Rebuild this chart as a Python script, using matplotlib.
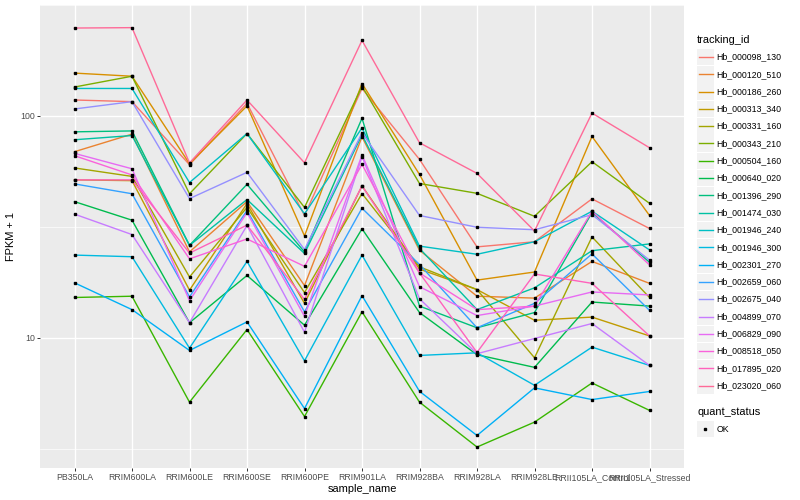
import numpy as np
import matplotlib
matplotlib.use('Agg')
import matplotlib.pyplot as plt
from matplotlib.lines import Line2D
from matplotlib.patches import Rectangle

samples = ['PB350LA', 'RRIM600LA', 'RRIM600LE', 'RRIM600SE', 'RRIM600PE', 'RRIM901LA',
           'RRIM928BA', 'RRIM928LA', 'RRIM928LE', 'RRII105LA_Control', 'RRII105LA_Stressed']

tracking_ids = ['Hb_000098_130', 'Hb_000120_510', 'Hb_000186_260', 'Hb_000313_340',
                'Hb_000331_160', 'Hb_000343_210', 'Hb_000504_160', 'Hb_000640_020',
                'Hb_001396_290', 'Hb_001474_030', 'Hb_001946_240', 'Hb_001946_300',
                'Hb_002301_270', 'Hb_002659_060', 'Hb_002675_040', 'Hb_004899_070',
                'Hb_006829_090', 'Hb_008518_050', 'Hb_017895_020', 'Hb_023020_060']

# FPKM + 1, one value per sample
hb_000098_130 = [118, 116, 60.3, 114, 35.6, 133, 63.7, 25.7, 27.1, 42.3, 31.1]
hb_000120_510 = [69.0, 82.8, 24.4, 41.1, 17.2, 80.5, 24.8, 15.4, 15.1, 22.1, 17.6]
hb_000186_260 = [156, 151, 60.9, 111, 28.8, 140, 54.5, 18.2, 19.8, 80.8, 35.6]
hb_000313_340 = [51.5, 51.1, 16.4, 40.3, 14.3, 48.4, 20.4, 16.5, 12.0, 12.4, 10.2]
hb_000331_160 = [58.3, 53.4, 18.8, 38.7, 16.0, 44.7, 20.9, 16.5, 8.13, 28.5, 15.2]
hb_000343_210 = [135, 151, 44.6, 83.3, 38.7, 136, 49.6, 44.8, 35.3, 62.2, 40.4]
hb_000504_160 = [15.2, 15.4, 5.13, 10.9, 4.42, 13.1, 5.13, 3.22, 4.17, 6.26, 4.71]
hb_000640_020 = [41.1, 33.9, 11.7, 19.1, 11.4, 31.0, 13.0, 8.39, 7.36, 14.5, 13.9]
hb_001396_290 = [84.8, 85.6, 26.1, 49.2, 24.4, 97.6, 13.9, 11.1, 13.0, 36.7, 21.9]
hb_001474_030 = [78.1, 81.6, 26.1, 42.0, 24.0, 82.2, 25.3, 13.4, 16.8, 24.7, 26.5]
hb_001946_240 = [133, 133, 50.1, 83.3, 36.2, 88.4, 25.9, 23.8, 27.1, 37.2, 24.9]
hb_001946_300 = [23.6, 23.2, 8.99, 22.1, 7.88, 23.6, 8.33, 8.56, 6.11, 9.08, 7.51]
hb_002301_270 = [17.7, 13.4, 8.77, 11.8, 4.80, 15.5, 5.74, 3.63, 5.95, 5.27, 5.73]
hb_002659_060 = [49.4, 44.6, 15.3, 37.5, 13.1, 38.4, 21.4, 11.1, 14.3, 23.9, 13.3]
hb_002675_040 = [107.5, 116, 42.4, 55.7, 25.0, 83.9, 35.6, 31.5, 30.7, 35.9, 22.4]
hb_004899_070 = [36.1, 29.2, 11.7, 32.1, 10.6, 65.5, 15.0, 8.48, 9.93, 11.6, 7.51]
hb_006829_090 = [67.8, 57.8, 14.7, 36.7, 12.5, 66.8, 17.0, 12.6, 13.9, 16.1, 15.6]
hb_008518_050 = [66.2, 54.2, 22.7, 27.9, 21.0, 60.5, 19.6, 13.4, 13.9, 37.2, 21.3]
hb_017895_020 = [51.5, 51.5, 24.1, 32.2, 14.9, 48.4, 19.6, 8.59, 19.4, 17.6, 10.2]
hb_023020_060 = [249, 250, 61.4, 118, 61.5, 219, 75.7, 55.1, 30.3, 103, 71.9]

series = [hb_000098_130, hb_000120_510, hb_000186_260, hb_000313_340, hb_000331_160,
          hb_000343_210, hb_000504_160, hb_000640_020, hb_001396_290, hb_001474_030,
          hb_001946_240, hb_001946_300, hb_002301_270, hb_002659_060, hb_002675_040,
          hb_004899_070, hb_006829_090, hb_008518_050, hb_017895_020, hb_023020_060]


def hue_colours(n, c=100, l=65):
    """ggplot2-style hue palette (polar Luv -> sRGB)."""
    hues = np.linspace(15, 375, n + 1)[:-1]
    un, vn = 0.1978398, 0.4683363
    out = []
    for h in hues:
        u_ = c * np.cos(np.radians(h))
        v_ = c * np.sin(np.radians(h))
        Y = 100 * ((l + 16) / 116) ** 3
        u = u_ / (13 * l) + un
        v = v_ / (13 * l) + vn
        X = 9.0 * Y * u / (4 * v)
        Z = -X / 3 - 5 * Y + 3 * Y / v
        X, Y, Z = X / 100, Y / 100, Z / 100
        rgb = [3.240479 * X - 1.537150 * Y - 0.498535 * Z,
               -0.969256 * X + 1.875992 * Y + 0.041556 * Z,
               0.055648 * X - 0.204043 * Y + 1.057311 * Z]
        rgb = [1.055 * ch ** (1 / 2.4) - 0.055 if ch > 0.00304 else 12.92 * ch for ch in rgb]
        out.append(tuple(min(1, max(0, ch)) for ch in rgb))
    return out


plt.rcParams['font.family'] = ['Liberation Sans', 'DejaVu Sans']

colours = hue_colours(len(tracking_ids))
x = np.arange(1, len(samples) + 1)

fig = plt.figure(figsize=(8, 5), dpi=100)
ax = fig.add_axes([40 / 800, 1 - 468 / 500, 644 / 800, 463 / 500])
ax.set_facecolor('#EBEBEB')

for vals, col in zip(series, colours):
    ax.plot(x, vals, color=col, lw=1.0, zorder=2)
for vals in series:
    ax.plot(x, vals, ls='none', marker='s', ms=2.0, color='black', zorder=3)

ax.set_yscale('log')
allv = np.log10(np.concatenate([np.asarray(s, float) for s in series]))
pad = 0.05 * (allv.max() - allv.min())
ax.set_ylim(10 ** (allv.min() - pad), 10 ** (allv.max() + pad))
ax.set_xlim(0.4, len(samples) + 0.6)

ax.set_yticks([10, 100])
ax.set_yticklabels(['10', '100'])
ax.set_yticks([10 ** 0.5, 10 ** 1.5, 10 ** 2.5], minor=True)
ax.yaxis.set_minor_formatter(plt.NullFormatter())
ax.set_xticks(x)
ax.set_xticklabels(samples)

ax.grid(True, which='major', color='white', lw=1.0, zorder=0)
ax.grid(True, which='minor', axis='y', color='white', lw=0.5, zorder=0)
ax.set_axisbelow(True)
for sp in ax.spines.values():
    sp.set_visible(False)
ax.tick_params(which='major', length=2.2, width=0.7, color='#333333',
               labelsize=6.3, labelcolor='#4D4D4D', pad=1.5)
ax.tick_params(which='minor', length=0)

ax.set_xlabel('sample_name', fontsize=7.9, labelpad=1.5)
ax.set_ylabel('FPKM + 1', fontsize=7.9, labelpad=3)


def fx(px):
    return px / 800


def fy(py):
    return 1 - py / 500


# legend: tracking_id
fig.text(fx(697), fy(40), 'tracking_id', fontsize=7.9, va='center', ha='left')
for i, (name, col) in enumerate(zip(tracking_ids, colours)):
    yc = 57 + i * 17.3
    fig.add_artist(Rectangle((fx(697), fy(yc + 8.3)), 16.5 / 800, 16.6 / 500,
                             facecolor='#F2F2F2', edgecolor='none'))
    fig.add_artist(Line2D([fx(698.5), fx(712.5)], [fy(yc), fy(yc)], color=col, lw=1.0))
    fig.text(fx(716.5), fy(yc), name, fontsize=6.3, va='center', ha='left')

# legend: quant_status
fig.text(fx(697), fy(412), 'quant_status', fontsize=7.9, va='center', ha='left')
fig.add_artist(Rectangle((fx(697), fy(429 + 8.3)), 16.5 / 800, 16.6 / 500,
                         facecolor='#F2F2F2', edgecolor='none'))
fig.add_artist(Line2D([fx(705)], [fy(429)], ls='none', marker='s', ms=2.0, color='black'))
fig.text(fx(716.5), fy(429), 'OK', fontsize=6.3, va='center', ha='left')

fig.savefig('out.png', dpi=100)
